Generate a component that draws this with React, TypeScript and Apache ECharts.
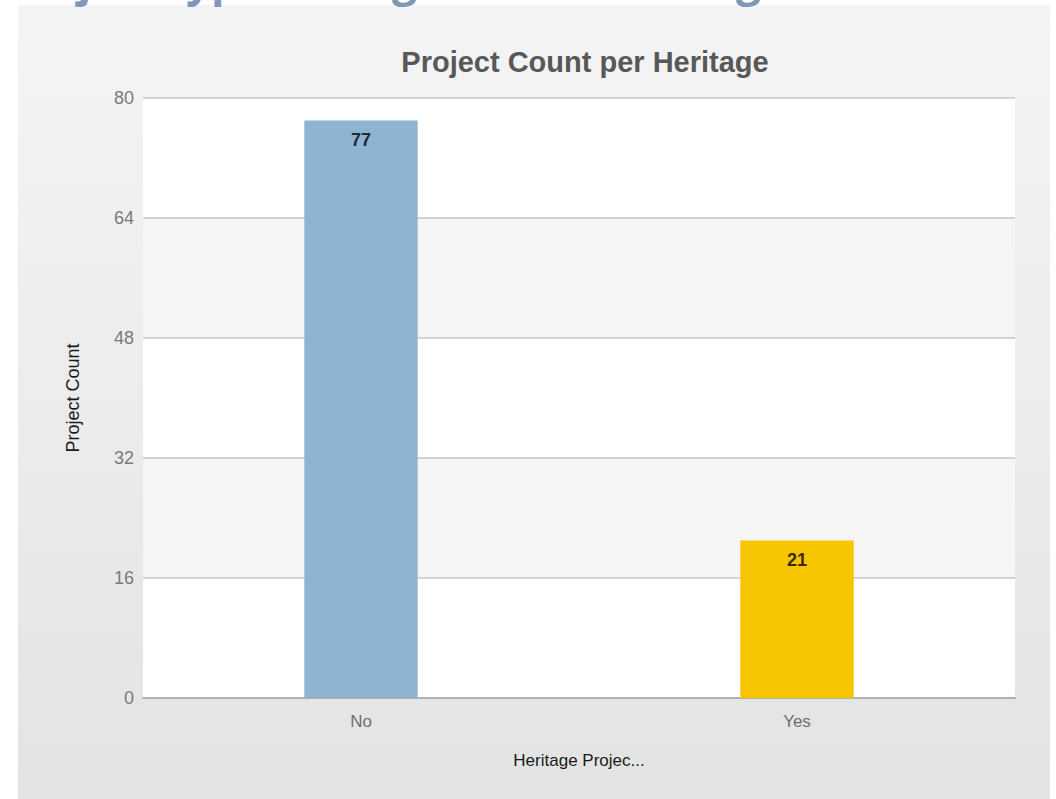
import React, { useEffect, useRef } from "react";
import * as echarts from "echarts";

const categories = ["No", "Yes"];
const projectCounts = [77, 21];
const barColors = ["#8fb4d1", "#f6c500"];
const labelColors = ["#1e2a36", "#3a2a00"];
const yTicks = [0, 16, 32, 48, 64, 80];
const chartTitle = "Project Count per Heritage";
const yAxisName = "Project Count";
const xAxisName = "Heritage Projec...";
// fragments of the clipped heading above the chart
const headingGlyphs = [
  { ch: "j", x: 78 },
  { ch: "yp", x: 186 },
  { ch: "g", x: 392 },
  { ch: "g", x: 736 },
];

export default function App() {
  const ref = useRef<HTMLDivElement>(null);
  useEffect(() => {
    if (!ref.current) return;
    const chart = echarts.init(ref.current, null, { renderer: "svg" });
    const font = "'Liberation Sans', Arial, Helvetica, sans-serif";
    chart.setOption({
      animation: false,
      backgroundColor: "transparent",
      textStyle: { fontFamily: font },
      title: {
        text: chartTitle,
        left: 580,
        textAlign: "center",
        top: 42,
        textStyle: { fontSize: 29, fontWeight: "bold", color: "#585858", fontFamily: font },
      },
      grid: { left: 143, right: 41, top: 98, bottom: 101 },
      xAxis: {
        type: "category",
        data: categories,
        name: xAxisName,
        nameLocation: "middle",
        nameGap: 54,
        nameTextStyle: { fontSize: 17, color: "#1a1a1a", fontFamily: font },
        axisLine: { show: true, lineStyle: { color: "#b0b0b0", width: 2 } },
        axisTick: { show: false },
        axisLabel: { fontSize: 17, color: "#6e6e6e", margin: 15, fontFamily: font },
      },
      yAxis: {
        type: "value",
        min: yTicks[0],
        max: yTicks[yTicks.length - 1],
        interval: yTicks[1] - yTicks[0],
        name: yAxisName,
        nameLocation: "middle",
        nameGap: 61,
        nameTextStyle: { fontSize: 18, color: "#1a1a1a", fontFamily: font },
        axisLine: { show: false },
        axisTick: { show: false },
        axisLabel: { fontSize: 18, color: "#7a7a7a", margin: 9, fontFamily: font },
        splitLine: { show: true, lineStyle: { color: "#c6c6c6", width: 1.5 } },
        splitArea: { show: true, areaStyle: { color: ["#ffffff", "#f5f5f5"] } },
      },
      series: [
        {
          type: "bar",
          barWidth: "26%",
          data: projectCounts.map((v, i) => ({
            value: v,
            itemStyle: { color: barColors[i] },
            label: { color: labelColors[i] },
          })),
          label: {
            show: true,
            position: "insideTop",
            distance: 10,
            fontSize: 18,
            fontWeight: "bold",
            fontFamily: font,
          },
        },
      ],
      graphic: headingGlyphs.map((g) => ({
        type: "text",
        x: g.x,
        y: -43,
        z: 10,
        style: {
          text: g.ch,
          font: `bold 44px 'Open Sans', 'Liberation Sans', sans-serif`,
          fill: "#8097b8",
          textVerticalAlign: "top",
        },
      })),
    });
    return () => chart.dispose();
  }, []);

  return (
    <div style={{ position: "fixed", left: 0, top: 0, width: 1056, height: 799, background: "#ffffff", overflow: "hidden" }}>
      <div
        style={{
          position: "absolute",
          left: 18,
          top: 5,
          width: 1032,
          height: 794,
          background: "linear-gradient(to bottom, #f4f4f4 0%, #ececec 50%, #e3e3e3 100%)",
        }}
      />
      <div ref={ref} style={{ position: "absolute", left: 0, top: 0, width: 1056, height: 799 }} />
    </div>
  );
}
